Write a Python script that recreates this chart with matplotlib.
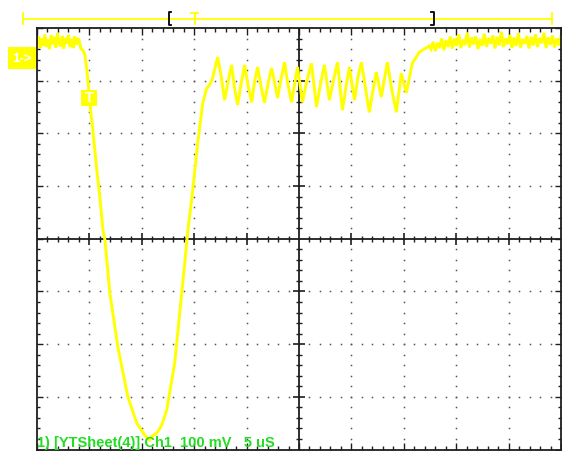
import numpy as np
import matplotlib.pyplot as plt
from matplotlib.ticker import MultipleLocator
from matplotlib.patches import Rectangle

# scope screen: 5 uS/div (10 div), 100 mV/div (8 div)
t_span = (0, 50)
v_span = (-400, 400)

# noisy baseline before the pulse (t = 0 .. 4.2 uS)
pre_t = (0.0, 4.2)
pre_v = [370, 384, 362, 380, 366, 388, 364, 378, 360, 386, 369, 383, 363, 390,
         372, 365, 385, 361, 381, 370, 387, 364, 379, 362, 384, 368, 381, 374, 360]

# falling edge, dip, recovery and ringing (uS, mV)
pulse_t = [4.38, 4.57, 4.76, 4.86, 5.05, 5.33, 5.71, 6.00, 6.29, 6.48, 6.95, 7.71,
           8.67, 9.52, 10.29, 10.76, 10.95, 11.43, 11.90, 12.38, 13.14, 13.62,
           14.10, 14.38, 14.86, 15.33, 15.81, 16.19, 16.48, 16.76, 17.24,
           17.57, 17.90, 18.25, 18.57, 18.85, 19.14, 19.50, 19.81, 20.15, 20.48,
           20.75, 21.05, 21.40, 21.71, 22.05, 22.38, 22.65, 22.95, 23.30, 23.62,
           23.95, 24.29, 24.86, 25.33, 25.75, 26.19, 26.67, 27.05, 27.43, 27.90,
           28.30, 28.67, 29.14, 29.50, 29.81, 30.29, 30.60, 30.95, 31.71, 32.05,
           32.38, 32.86, 33.43, 33.85, 34.29, 34.76, 35.24, 35.81, 36.48, 37.43]
pulse_v = [358, 349, 320, 301, 257, 206, 130, 79, 17, -2, -103, -205,
           -300, -350, -373, -382, -375, -369, -354, -325, -236, -141,
           -46, 13, 92, 181, 257, 286, 292, 305, 345,
           309, 263, 300, 330, 286, 254, 297, 330, 290, 259,
           296, 326, 287, 258, 295, 324, 300, 267, 305, 335,
           292, 259, 326, 259, 300, 333, 250, 294, 330, 263,
           302, 335, 244, 290, 326, 263, 304, 335, 240, 281,
           316, 269, 335, 283, 240, 314, 277, 333, 354, 366]

# noisy baseline after the ringing (t = 37.6 .. 50 uS)
post_t = (37.6, 50.0)
post_v = [360, 374, 356, 372, 362, 380, 358, 377, 364, 384, 361, 380, 366, 388,
          362, 378, 368, 391, 363, 382, 369, 384, 360, 379, 366, 389, 364, 381,
          370, 386, 361, 383, 367, 393, 364, 380, 369, 387, 362, 382, 366, 390,
          363, 379, 370, 385, 361, 383, 367, 388, 364, 381, 371, 391, 362, 382,
          368, 386, 363, 380, 367, 384]

trace_t = np.concatenate([np.linspace(*pre_t, len(pre_v)), pulse_t,
                          np.linspace(*post_t, len(post_v))])
trace_v = np.concatenate([pre_v, pulse_v, post_v])

yellow = '#ffff00'
frame = '#1e1e1e'

fig = plt.figure(figsize=(5.62, 4.51), dpi=100)
ax = fig.add_axes([37 / 562, 1.5 / 451, 524 / 562, 421.5 / 451])
ax.set_xlim(*t_span)
ax.set_ylim(*v_span)

for s in ax.spines.values():
    s.set_color(frame)
    s.set_linewidth(1.3)

ax.xaxis.set_major_locator(MultipleLocator(5))
ax.xaxis.set_minor_locator(MultipleLocator(1))
ax.yaxis.set_major_locator(MultipleLocator(100))
ax.yaxis.set_minor_locator(MultipleLocator(20))
ax.tick_params(which='both', direction='in', top=True, right=True,
               labelbottom=False, labelleft=False, color=frame, width=1)
ax.tick_params(axis='x', which='major', length=5)
ax.tick_params(axis='x', which='minor', length=3)
ax.tick_params(axis='y', which='major', length=4.5)
ax.tick_params(axis='y', which='minor', length=2.5)

# dotted graticule
gx = [5, 10, 15, 20, 30, 35, 40, 45]
gy = [-300, -200, -100, 100, 200, 300]
dot_y = np.arange(-380, 400, 20)
dot_x = np.arange(1, 50, 1)
for x in gx:
    ax.plot(np.full(len(dot_y), x), dot_y, ls='none', marker='s', ms=1.1,
            mew=0, color='#555555')
for y in gy:
    ax.plot(dot_x, np.full(len(dot_x), y), ls='none', marker='s', ms=1.1,
            mew=0, color='#555555')

# centre cross with ticks
ax.axhline(0, color=frame, lw=1.3)
ax.axvline(25, color=frame, lw=1.3)
minor_x = [x for x in range(1, 50) if x % 5]
major_x = [5, 10, 15, 20, 30, 35, 40, 45]
minor_y = [y for y in range(-380, 400, 20) if y % 100]
major_y = [-300, -200, -100, 100, 200, 300]
ax.plot(minor_x, np.zeros(len(minor_x)), ls='none', marker='|', ms=5, mew=1, color=frame)
ax.plot(major_x, np.zeros(len(major_x)), ls='none', marker='|', ms=8, mew=1.2, color=frame)
ax.plot(np.full(len(minor_y), 25), minor_y, ls='none', marker='_', ms=5, mew=1, color=frame)
ax.plot(np.full(len(major_y), 25), major_y, ls='none', marker='_', ms=8, mew=1.2, color=frame)

ax.plot(trace_t, trace_v, color=yellow, lw=2.1, solid_joinstyle='miter')

# screen annotations in pixel coordinates
ov = fig.add_axes([0, 0, 1, 1])
ov.set_xlim(0, 562)
ov.set_ylim(451, 0)
ov.axis('off')

ov.plot([23, 552], [18.5, 18.5], color=yellow, lw=1.3)
for x in (23, 552):
    ov.plot([x, x], [13, 24], color=yellow, lw=1.3)
ov.plot([191, 198], [12.5, 12.5], color=yellow, lw=1.3)
ov.plot([194.5, 194.5], [12.5, 24], color=yellow, lw=1.3)
ov.plot([171, 168.5, 168.5, 171], [12, 12, 25, 25], color='black', lw=1.3)
ov.plot([431, 433.5, 433.5, 431], [12, 12, 25, 25], color='black', lw=1.3)

ov.add_patch(Rectangle((8, 47), 28, 22, fc=yellow, ec='none'))
ov.text(22, 58.5, '1->', ha='center', va='center', color='white',
        fontweight='bold', fontsize=9.5, family='Liberation Sans')
ov.add_patch(Rectangle((81, 90), 16, 16, fc=yellow, ec='none'))
ov.text(89, 98.5, 'T', ha='center', va='center', color='white',
        fontweight='bold', fontsize=10.5, family='Liberation Sans')

ov.text(37, 447, '1) [YTSheet(4)] Ch1  100 mV   5 uS', ha='left', va='baseline',
        color='#22dd22', fontweight='bold', fontsize=10.5, family='Liberation Sans')

fig.savefig('out.png', dpi=100)
